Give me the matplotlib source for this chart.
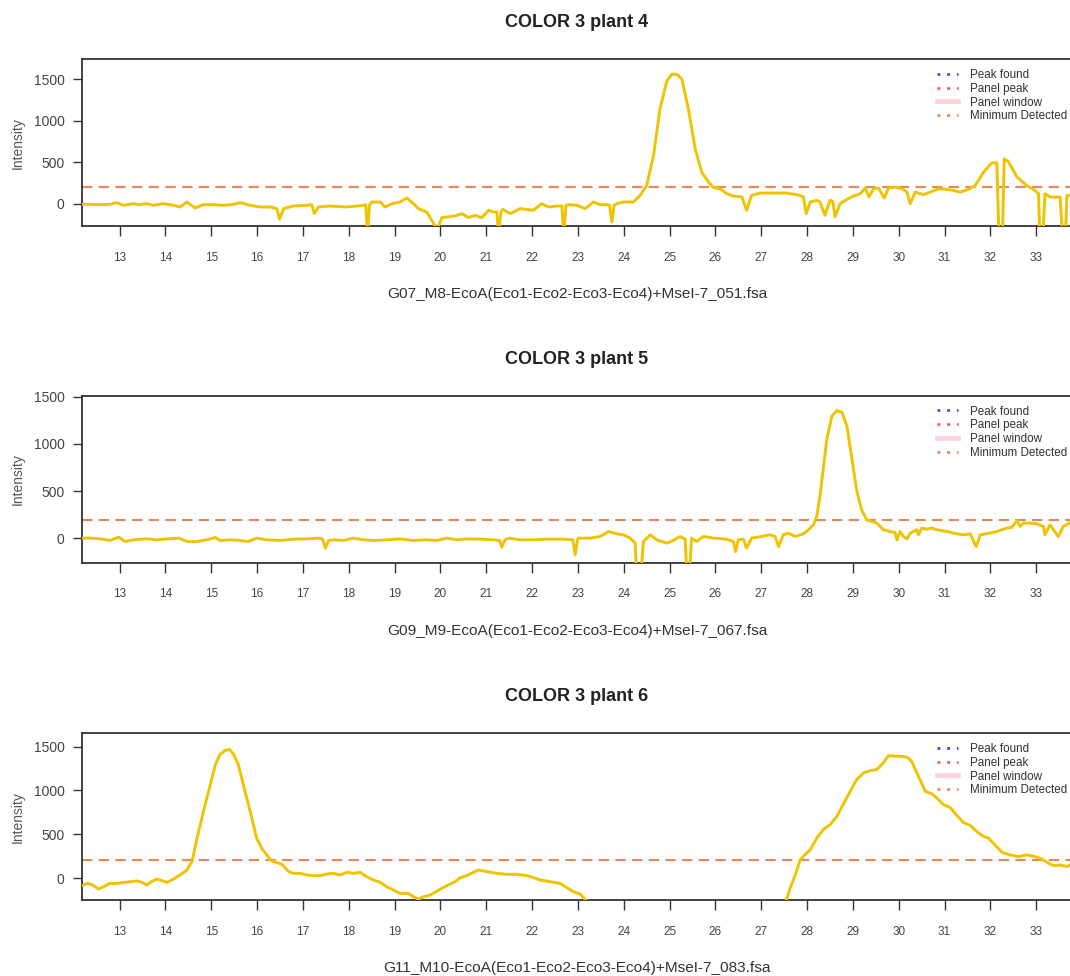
import matplotlib
matplotlib.use("Agg")
import matplotlib.pyplot as plt
from matplotlib.lines import Line2D

plt.rcParams["font.family"] = ["Liberation Sans", "DejaVu Sans"]

# ---- data: fragment size (x) vs. fluorescence intensity (y) for each plant ----
titles = ["COLOR 3 plant 4", "COLOR 3 plant 5", "COLOR 3 plant 6"]
files = [
    "G07_M8-EcoA(Eco1-Eco2-Eco3-Eco4)+MseI-7_051.fsa",
    "G09_M9-EcoA(Eco1-Eco2-Eco3-Eco4)+MseI-7_067.fsa",
    "G11_M10-EcoA(Eco1-Eco2-Eco3-Eco4)+MseI-7_083.fsa",
]

size_p4 = [12.14, 12.36, 12.58, 12.79, 12.94, 13.09, 13.30, 13.41, 13.59, 13.74, 13.96, 14.18,
           14.32, 14.47, 14.65, 14.83, 15.05, 15.27, 15.49, 15.63, 15.85, 16.07, 16.29, 16.43,
           16.49, 16.58, 16.79, 17.09, 17.19, 17.25, 17.34, 17.59, 17.96, 18.32, 18.37, 18.41,
           18.45, 18.50, 18.69, 18.79, 18.94, 19.12, 19.27, 19.41, 19.52, 19.70, 19.93, 20.03,
           20.14, 20.32, 20.47, 20.61, 20.76, 20.90, 21.05, 21.16, 21.23, 21.27, 21.32, 21.36,
           21.52, 21.74, 22.03, 22.21, 22.36, 22.54, 22.65, 22.69, 22.74, 22.79, 22.98, 23.16,
           23.34, 23.48, 23.63, 23.69, 23.74, 23.79, 23.85, 23.99, 24.21, 24.36, 24.50, 24.65,
           24.79, 24.94, 25.05, 25.16, 25.27, 25.41, 25.56, 25.70, 25.85, 25.96, 26.10, 26.25,
           26.39, 26.58, 26.68, 26.79, 26.98, 27.56, 27.85, 27.92, 27.98, 28.07, 28.21, 28.28,
           28.39, 28.50, 28.56, 28.61, 28.72, 28.87, 29.01, 29.16, 29.27, 29.35, 29.45, 29.56,
           29.68, 29.78, 29.92, 30.07, 30.18, 30.25, 30.36, 30.54, 30.72, 30.87, 31.05, 31.19,
           31.34, 31.52, 31.67, 31.85, 32.03, 32.14, 32.19, 32.26, 32.30, 32.39, 32.58, 32.79,
           32.97, 33.05, 33.08, 33.14, 33.19, 33.30, 33.52, 33.58, 33.63, 33.67, 33.74]
rfu_p4 = [-8, -8, -12, -8, 12, -20, 0, -12, 0, -20, 0, -20,
          -40, 20, -52, -12, -12, -20, -8, 12, -20, -40, -40, -60,
          -188, -60, -28, -20, -12, -120, -40, -28, -40, -20, -12, -380,
          -20, 20, 20, -40, 0, 20, 68, 0, -60, -100, -310, -170,
          -160, -148, -120, -168, -140, -168, -80, -100, -100, -380, -100, -68,
          -120, -60, -80, 0, -40, -28, -28, -380, -20, -12, -20, -60,
          20, -12, -12, -20, -220, -20, 0, 20, 20, 100, 220, 580,
          1140, 1480, 1560, 1560, 1500, 1140, 660, 380, 260, 192, 180, 120,
          92, 80, -80, 100, 128, 128, 100, 80, -120, 20, 40, 20,
          -140, 40, 28, -160, 0, 52, 92, 120, 188, 80, 180, 188,
          68, 188, 200, 180, 140, 0, 140, 108, 148, 180, 172, 160,
          140, 172, 220, 380, 492, 492, -460, -460, 540, 508, 320, 220,
          160, 120, -460, -460, 120, 80, 80, -460, -460, 100, 100]

size_p5 = [12.14, 12.36, 12.58, 12.79, 12.98, 13.12, 13.30, 13.59, 13.81, 14.03, 14.29, 14.47,
           14.69, 14.90, 15.09, 15.19, 15.41, 15.63, 15.81, 15.99, 16.21, 16.50, 16.79, 17.09,
           17.34, 17.43, 17.49, 17.56, 17.67, 17.89, 18.10, 18.32, 18.54, 18.83, 19.12, 19.41,
           19.70, 19.92, 20.14, 20.36, 20.58, 20.87, 21.16, 21.29, 21.34, 21.41, 21.49, 21.74,
           22.03, 22.32, 22.69, 22.89, 22.94, 22.99, 23.01, 23.27, 23.48, 23.67, 23.85, 23.99,
           24.14, 24.25, 24.28, 24.37, 24.43, 24.58, 24.72, 24.94, 25.08, 25.23, 25.34, 25.38,
           25.43, 25.48, 25.59, 25.74, 25.96, 26.25, 26.39, 26.44, 26.50, 26.61, 26.68, 26.79,
           27.01, 27.19, 27.30, 27.38, 27.48, 27.59, 27.74, 27.92, 28.03, 28.14, 28.21, 28.28,
           28.36, 28.43, 28.54, 28.65, 28.76, 28.87, 28.98, 29.08, 29.19, 29.30, 29.41, 29.52,
           29.67, 29.81, 29.92, 29.96, 30.03, 30.10, 30.18, 30.25, 30.39, 30.43, 30.50, 30.61,
           30.72, 30.83, 31.05, 31.27, 31.41, 31.56, 31.69, 31.78, 31.99, 32.14, 32.36, 32.47,
           32.58, 32.65, 32.72, 32.87, 33.01, 33.16, 33.19, 33.30, 33.48, 33.59, 33.74]
rfu_p5 = [4, 4, -4, -21, 14, -32, -14, -4, -14, -4, 4, -32,
          -32, -14, 11, -21, -14, -21, -32, 4, -14, -21, -7, -4,
          4, -7, -102, -21, -14, -21, 4, -14, -21, -14, -4, -21,
          -14, -21, 4, -14, -4, -7, -14, -21, -92, -14, 4, -14,
          -14, -7, -7, -14, -173, -14, 4, 4, 21, 74, 49, 39,
          4, -49, -400, -400, -32, 39, -14, -49, -21, 21, -7, -400,
          -400, 4, -32, 21, 4, -7, -32, -138, -14, -7, -102, 4,
          21, 39, 21, -85, 39, 57, 21, 49, 92, 145, 233, 445,
          763, 1046, 1293, 1353, 1336, 1187, 834, 516, 304, 198, 180, 163,
          92, 74, 64, -14, 74, 21, -4, 57, 92, 39, 110, 99,
          110, 92, 74, 49, 39, 49, -85, 39, 57, 74, 110, 120,
          191, 127, 163, 163, 155, 127, 39, 145, 21, 127, 170]

size_p6 = [12.14, 12.29, 12.39, 12.54, 12.65, 12.79, 12.94, 13.09, 13.23, 13.38, 13.49, 13.59,
           13.70, 13.81, 13.92, 14.03, 14.18, 14.32, 14.47, 14.58, 14.69, 14.83, 14.98, 15.09,
           15.19, 15.30, 15.40, 15.49, 15.59, 15.70, 15.85, 15.99, 16.10, 16.21, 16.32, 16.43,
           16.54, 16.69, 16.79, 16.94, 17.09, 17.23, 17.38, 17.52, 17.67, 17.81, 17.96, 18.10,
           18.25, 18.39, 18.54, 18.69, 18.83, 18.98, 19.12, 19.30, 19.41, 19.52, 19.63, 19.78,
           19.96, 20.14, 20.32, 20.43, 20.58, 20.72, 20.83, 21.01, 21.23, 21.45, 21.67, 21.89,
           22.03, 22.18, 22.39, 22.61, 22.76, 22.90, 23.05, 23.19, 23.60, 24.50, 25.50, 26.50,
           27.20, 27.54, 27.63, 27.74, 27.85, 27.96, 28.07, 28.21, 28.36, 28.50, 28.65, 28.79,
           28.94, 29.08, 29.23, 29.38, 29.52, 29.63, 29.78, 29.92, 30.07, 30.18, 30.28, 30.43,
           30.58, 30.72, 30.83, 30.98, 31.12, 31.27, 31.41, 31.56, 31.70, 31.85, 31.96, 32.10,
           32.25, 32.43, 32.61, 32.79, 32.97, 33.12, 33.27, 33.38, 33.52, 33.67, 33.74]
rfu_p6 = [-99, -61, -73, -126, -99, -61, -61, -50, -42, -34, -50, -80,
          -42, -11, -31, -50, -11, 34, 92, 187, 455, 760, 1066, 1295,
          1410, 1455, 1467, 1410, 1295, 1066, 760, 455, 340, 264, 195, 176,
          157, 73, 53, 53, 34, 27, 27, 46, 53, 34, 65, 53,
          65, 15, -23, -50, -99, -138, -176, -176, -214, -241, -214, -195,
          -138, -88, -42, 4, 27, 65, 92, 73, 53, 42, 42, 27,
          4, -23, -42, -61, -111, -157, -183, -264, -500, -800, -900, -700,
          -450, -264, -118, 34, 206, 271, 321, 455, 558, 607, 703, 844,
          989, 1123, 1200, 1226, 1238, 1295, 1398, 1390, 1390, 1379, 1333, 1161,
          989, 963, 913, 837, 806, 714, 634, 600, 531, 474, 455, 378,
          294, 264, 244, 264, 244, 218, 168, 141, 149, 130, 149]

sizes = [size_p4, size_p5, size_p6]
rfus = [rfu_p4, rfu_p5, rfu_p6]
y_limits = [(-268, 1740), (-255, 1507), (-250, 1652)]
x_limits = (12.18, 33.78)
x_ticks = list(range(13, 34))
y_ticks = [0, 500, 1000, 1500]
min_detected = 200

legend_labels = ["Peak found", "Panel peak", "Panel window", "Minimum Detected"]

# ---- styling ----
trace_color = "#F0C300"
thresh_color = "#E8875A"
text_dark = "#222222"
text_grey = "#444444"

fig = plt.figure(figsize=(10.70, 9.76), dpi=100)
W, H = 1070.0, 976.0
left_px, width_px = 82.0, 990.0
panel_tops = [59.3, 396.0, 733.3]
panel_h = 166.6

for i in range(3):
    top = panel_tops[i]
    ax = fig.add_axes([left_px / W, 1 - (top + panel_h) / H, width_px / W, panel_h / H])
    ax.plot(sizes[i], rfus[i], color=trace_color, lw=2.1, solid_joinstyle="round", zorder=3)
    ax.axhline(min_detected, color=thresh_color, lw=1.5, linestyle=(0, (5, 3)), zorder=2)

    ax.set_xlim(*x_limits)
    ax.set_ylim(*y_limits[i])
    ax.set_xticks(x_ticks)
    ax.set_yticks(y_ticks)
    ax.set_xticklabels([str(t) for t in x_ticks], fontsize=8.5, color=text_grey)
    ax.set_yticklabels([str(t) for t in y_ticks], fontsize=10, color=text_grey)
    ax.tick_params(axis="x", direction="out", length=7.5, width=1.0, pad=11, color="#333333")
    ax.tick_params(axis="y", direction="out", length=6.5, width=1.0, pad=6, color="#333333")
    for side in ["left", "bottom", "top"]:
        ax.spines[side].set_color("#333333")
        ax.spines[side].set_linewidth(1.3)
    ax.spines["right"].set_visible(False)

    ax.set_ylabel("Intensity", fontsize=10, color="#555555")
    ax.yaxis.set_label_coords((25 - left_px) / width_px, 0.5)
    ax.set_xlabel(files[i], fontsize=11.1, color="#333333")
    ax.xaxis.set_label_coords(0.5, -61 / panel_h)

    ax.text(0.5, 1 + 37 / panel_h, titles[i], transform=ax.transAxes, ha="center", va="center",
            fontsize=13, fontweight="bold", color=text_dark)

    handles = [
        Line2D([], [], color="#4444FF", lw=2.0, linestyle=(0, (1.0, 2.5))),
        Line2D([], [], color="#FF5555", lw=2.0, linestyle=(0, (1.0, 2.5))),
        Line2D([], [], color="#FFD3DA", lw=3.5),
        Line2D([], [], color=thresh_color, lw=2.0, linestyle=(0, (1.0, 2.5))),
    ]
    leg = ax.legend(handles, legend_labels, loc="upper left",
                    bbox_to_anchor=((937 - left_px) / width_px, 1 - 9.5 / panel_h),
                    frameon=False, fontsize=8.4, handlelength=1.8, handletextpad=1.0,
                    labelspacing=0.16, borderpad=0, borderaxespad=0)
    for t in leg.get_texts():
        t.set_color("#333333")

fig.savefig("out.png", dpi=100)
